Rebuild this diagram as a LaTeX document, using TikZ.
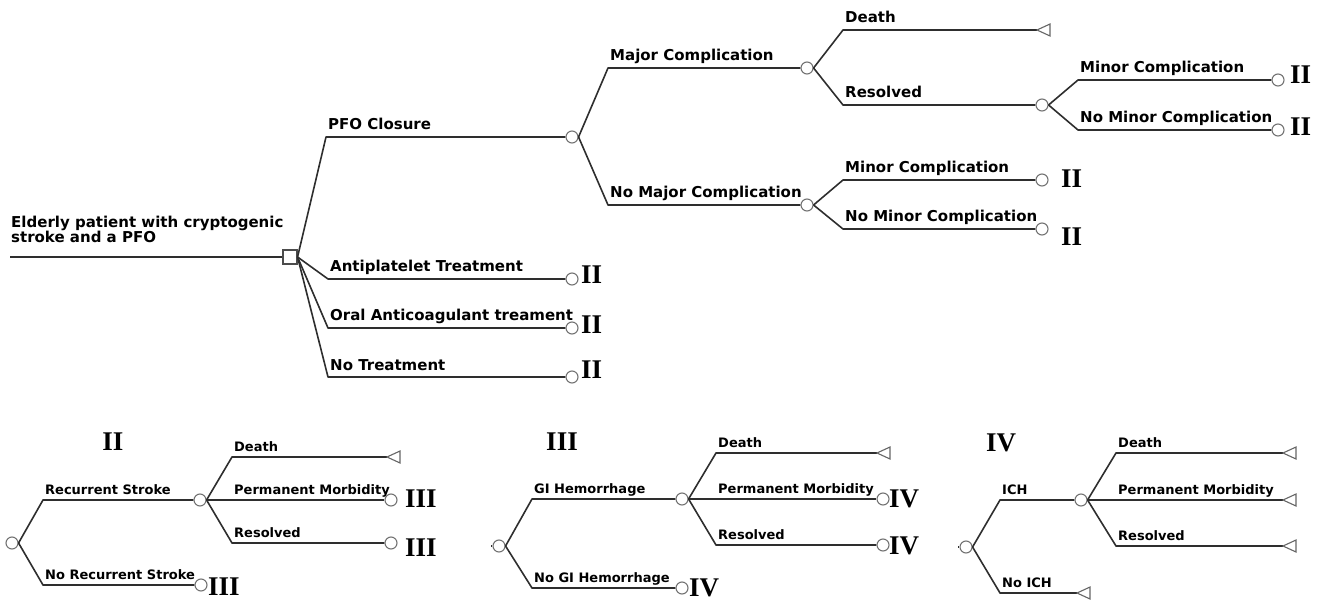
\documentclass[tikz,border=0pt]{standalone}
\usepackage{fontspec}
\setmainfont{DejaVu Sans}
\newfontfamily\romfont{Liberation Serif}
\begin{document}
\begin{tikzpicture}[x=1pt,y=-1pt,
  edge/.style={line width=1.6pt, draw=black!82, line join=round},
  chance/.style={circle, draw=black!55, line width=1.1pt, fill=white, inner sep=0pt, minimum size=12pt},
  decision/.style={rectangle, draw=black!70, line width=1.1pt, fill=white, inner sep=0pt, minimum size=14pt},
  lbl/.style={font=\bfseries\fontsize{15}{14}\selectfont, anchor=base west, inner sep=0pt},
  slbl/.style={font=\bfseries\fontsize{13}{13}\selectfont, anchor=base west, inner sep=0pt},
  num/.style={font=\romfont\bfseries\fontsize{27}{27}\selectfont, anchor=west, inner sep=0pt},
  term/.pic={\draw[black!60, line width=1.1pt, fill=white] (0,0) -- (13,-6) -- (13,6) -- cycle;}
]
\useasboundingbox (0,0) rectangle (1321,601);

% ================= TOP TREE =================
\node[decision] (dec) at (290,257) {};
\coordinate (start) at (10,257);
\draw[edge] (start) -- (dec.west);
\node[lbl, align=left, anchor=south west, text depth=0pt] (rootlbl) at (11,243) {Elderly patient with cryptogenic\\stroke and a PFO};

% PFO closure
\coordinate (kpfo) at (326,137);
\node[chance] (cpfo) at (572,137) {};
\draw[edge] (dec.east) -- (kpfo) -- (cpfo.west);
\node[lbl] (lpfo) at (328,130) {PFO Closure};

% Antiplatelet
\coordinate (kant) at (328,279);
\node[chance] (cant) at (572,279) {};
\draw[edge] (dec.east) -- (kant) -- (cant.west);
\node[lbl] (lant) at (330,272) {Antiplatelet Treatment};
\node[num] (nant) at (581,275) {II};

% Oral anticoagulant
\coordinate (kora) at (328,328);
\node[chance] (cora) at (572,328) {};
\draw[edge] (dec.east) -- (kora) -- (cora.west);
\node[lbl] (lora) at (330,320) {Oral Anticoagulant treament};
\node[num] (nora) at (581,325) {II};

% No treatment
\coordinate (knot) at (328,377);
\node[chance] (cnot) at (572,377) {};
\draw[edge] (dec.east) -- (knot) -- (cnot.west);
\node[lbl] (lnot) at (330,370) {No Treatment};
\node[num] (nnot) at (581,370) {II};

% Major complication
\coordinate (kmaj) at (608,68);
\node[chance] (cmaj) at (807,68) {};
\draw[edge] (cpfo.east) -- (kmaj) -- (cmaj.west);
\node[lbl] (lmaj) at (610,61) {Major Complication};

% No major complication
\coordinate (knomaj) at (608,205);
\node[chance] (cnomaj) at (807,205) {};
\draw[edge] (cpfo.east) -- (knomaj) -- (cnomaj.west);
\node[lbl] (lnomaj) at (610,198) {No Major Complication};

% Death (major)
\coordinate (kd1) at (843,30);
\coordinate (td1) at (1037,30);
\draw[edge] (cmaj.east) -- (kd1) -- (td1);
\pic at (td1) {term};
\node[lbl] (ld1) at (845,23) {Death};

% Resolved (major)
\coordinate (kres) at (843,105);
\node[chance] (cres) at (1042,105) {};
\draw[edge] (cmaj.east) -- (kres) -- (cres.west);
\node[lbl] (lres) at (845,98) {Resolved};

% Minor / No minor after resolved
\coordinate (kmin1) at (1078,80);
\node[chance] (cmin1) at (1278,80) {};
\draw[edge] (cres.east) -- (kmin1) -- (cmin1.west);
\node[lbl] (lmin1) at (1080,73) {Minor Complication};
\node[num] (nmin1) at (1290,75) {II};

\coordinate (knomin1) at (1078,130);
\node[chance] (cnomin1) at (1278,130) {};
\draw[edge] (cres.east) -- (knomin1) -- (cnomin1.west);
\node[lbl] (lnomin1) at (1080,123) {No Minor Complication};
\node[num] (nnomin1) at (1290,127) {II};

% Minor / No minor after no major
\coordinate (kmin2) at (843,180);
\node[chance] (cmin2) at (1042,180) {};
\draw[edge] (cnomaj.east) -- (kmin2) -- (cmin2.west);
\node[lbl] (lmin2) at (845,173) {Minor Complication};
\node[num] (nmin2) at (1061,179) {II};

\coordinate (knomin2) at (843,229);
\node[chance] (cnomin2) at (1042,229) {};
\draw[edge] (cnomaj.east) -- (knomin2) -- (cnomin2.west);
\node[lbl] (lnomin2) at (845,222) {No Minor Complication};
\node[num] (nnomin2) at (1061,237) {II};

% ================= TREE II =================
\node[num, anchor=center] (t2) at (113,442) {II};
\node[chance] (r2) at (12,543) {};
\coordinate (krs) at (43,500);
\node[chance] (crs) at (200,500) {};
\draw[edge] (r2.east) -- (krs) -- (crs.west);
\node[slbl] (lrs) at (45,494) {Recurrent Stroke};

\coordinate (knrs) at (43,585);
\node[chance] (cnrs) at (201,585) {};
\draw[edge] (r2.east) -- (knrs) -- (cnrs.west);
\node[slbl] (lnrs) at (45,579) {No Recurrent Stroke};
\node[num] (nnrs) at (208,587) {III};

\coordinate (kd2) at (232,457);
\coordinate (td2) at (387,457);
\draw[edge] (crs.east) -- (kd2) -- (td2);
\pic at (td2) {term};
\node[slbl] (ld2) at (234,451) {Death};

\node[chance] (cpm2) at (391,500) {};
\draw[edge] (crs.east) -- (cpm2.west);
\node[slbl] (lpm2) at (234,494) {Permanent Morbidity};
\node[num] (npm2) at (405,499) {III};

\coordinate (kr2) at (232,543);
\node[chance] (cr2) at (391,543) {};
\draw[edge] (crs.east) -- (kr2) -- (cr2.west);
\node[slbl] (lr2) at (234,537) {Resolved};
\node[num] (nr2) at (405,548) {III};

% ================= TREE III =================
\node[num, anchor=center] (t3) at (562,442) {III};
\coordinate (s3) at (491,546);
\node[chance] (r3) at (499,546) {};
\draw[edge] (s3) -- (r3.west);
\coordinate (kgi) at (532,499);
\node[chance] (cgi) at (682,499) {};
\draw[edge] (r3.east) -- (kgi) -- (cgi.west);
\node[slbl] (lgi) at (534,493) {GI Hemorrhage};

\coordinate (kngi) at (532,588);
\node[chance] (cngi) at (682,588) {};
\draw[edge] (r3.east) -- (kngi) -- (cngi.west);
\node[slbl] (lngi) at (534,582) {No GI Hemorrhage};
\node[num] (nngi) at (689,588) {IV};

\coordinate (kd3) at (716,453);
\coordinate (td3) at (877,453);
\draw[edge] (cgi.east) -- (kd3) -- (td3);
\pic at (td3) {term};
\node[slbl] (ld3) at (718,447) {Death};

\node[chance] (cpm3) at (883,499) {};
\draw[edge] (cgi.east) -- (cpm3.west);
\node[slbl] (lpm3) at (718,493) {Permanent Morbidity};
\node[num] (npm3) at (889,499) {IV};

\coordinate (kr3) at (716,545);
\node[chance] (cr3) at (883,545) {};
\draw[edge] (cgi.east) -- (kr3) -- (cr3.west);
\node[slbl] (lr3) at (718,539) {Resolved};
\node[num] (nr3) at (889,546) {IV};

% ================= TREE IV =================
\node[num, anchor=center] (t4) at (1001,443) {IV};
\coordinate (s4) at (958,547);
\node[chance] (r4) at (966,547) {};
\draw[edge] (s4) -- (r4.west);
\coordinate (kich) at (1000,500);
\node[chance] (cich) at (1081,500) {};
\draw[edge] (r4.east) -- (kich) -- (cich.west);
\node[slbl] (lich) at (1002,494) {ICH};

\coordinate (knich) at (1000,593);
\coordinate (tnich) at (1077,593);
\draw[edge] (r4.east) -- (knich) -- (tnich);
\pic at (tnich) {term};
\node[slbl] (lnich) at (1002,587) {No ICH};

\coordinate (kd4) at (1116,453);
\coordinate (td4) at (1283,453);
\draw[edge] (cich.east) -- (kd4) -- (td4);
\pic at (td4) {term};
\node[slbl] (ld4) at (1118,447) {Death};

\coordinate (tpm4) at (1283,500);
\draw[edge] (cich.east) -- (tpm4);
\pic at (tpm4) {term};
\node[slbl] (lpm4) at (1118,494) {Permanent Morbidity};

\coordinate (kr4) at (1116,546);
\coordinate (tr4) at (1283,546);
\draw[edge] (cich.east) -- (kr4) -- (tr4);
\pic at (tr4) {term};
\node[slbl] (lr4) at (1118,540) {Resolved};
\end{tikzpicture}
\end{document}
